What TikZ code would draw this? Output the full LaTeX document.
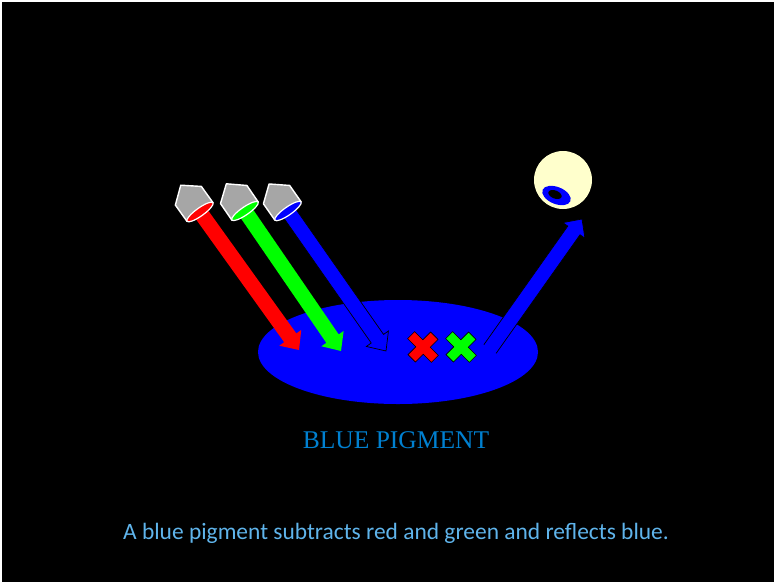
\documentclass[tikz,border=0pt]{standalone}
\usepackage{fontspec}
\newfontfamily\titlefont{Liberation Serif}
\newfontfamily\notefont{Carlito}
\usetikzlibrary{calc}

\definecolor{pureblue}{RGB}{0,0,255}
\definecolor{purered}{RGB}{255,0,0}
\definecolor{puregreen}{RGB}{0,255,0}
\definecolor{lampgray}{RGB}{166,166,166}
\definecolor{eyecream}{RGB}{255,255,204}
\definecolor{labelblue}{RGB}{0,128,208}
\definecolor{noteblue}{RGB}{95,180,235}

% angle (\bang) and length (\blen) from one named point to another
\newcommand\beamangle[2]{%
  \pgfmathanglebetweenpoints{\pgfpointanchor{#1}{center}}{\pgfpointanchor{#2}{center}}%
  \let\bang\pgfmathresult
  \pgfpointdiff{\pgfpointanchor{#1}{center}}{\pgfpointanchor{#2}{center}}%
  \pgfgetlastxy{\bdx}{\bdy}%
  \pgfmathsetmacro\blen{veclen(\bdx,\bdy)}%
}

% block arrow from #1 to #2, drawn with style #3
\newcommand\beam[3]{%
  \beamangle{#1}{#2}%
  \begin{scope}[shift={(#1)}, rotate=\bang]
    \path[#3] (0,7.5) -- (\blen-15,7.5) -- (\blen-15,13.5) -- (\blen,0)
      -- (\blen-15,-13.5) -- (\blen-15,-7.5) -- (0,-7.5) -- cycle;
  \end{scope}}

% lamp housing sitting at #1, aimed at #2, lens colour #3
\newcommand\lamp[3]{%
  \beamangle{#1}{#2}%
  \begin{scope}[shift={(#1)}, rotate=\bang]
    \path[lampbody] (0,16) -- (-20,16) -- (-33,0) -- (-20,-16) -- (0,-16) -- cycle;
    \path[lens, fill=#3] (0,0) ellipse [x radius=4pt, y radius=16pt];
  \end{scope}}

% cross mark centred on #1, filled with #2
\newcommand\crossmark[2]{%
  \begin{scope}[shift={(#1)}, rotate=45, yscale=1.05]
    \path[crossstyle, fill=#2] (5,5) -- (16,5) -- (16,-5) -- (5,-5) -- (5,-16)
      -- (-5,-16) -- (-5,-5) -- (-16,-5) -- (-16,5) -- (-5,5) -- (-5,16)
      -- (5,16) -- cycle;
  \end{scope}}

\begin{document}
\begin{tikzpicture}[x=1pt, y=-1pt,
    lampbody/.style={fill=lampgray, draw=white, line width=1.4pt, line join=round},
    lens/.style={draw=white, line width=1.2pt},
    crossstyle/.style={draw=black, line width=0.6pt},
    plainbeam/.style={fill=#1},
    outlinebeam/.style={fill=pureblue, draw=black, line width=0.7pt, line join=miter}]
  \useasboundingbox (0,0) rectangle (774,582);
  \fill[white] (0,0) rectangle (774,582);
  \fill[black] (2,2) rectangle (774,582);

  % pigment patch
  \fill[pureblue] (398,352) ellipse [x radius=140pt, y radius=52pt];

  % named points
  \coordinate (redsrc) at (200,212);
  \coordinate (redtip) at (299,350);
  \coordinate (grnsrc) at (245,211);
  \coordinate (grntip) at (341,351);
  \coordinate (blusrc) at (288,211);
  \coordinate (blutip) at (386,351);
  \coordinate (outtail) at (490,349);
  \coordinate (outtip) at (582,219);
  \coordinate (xred) at (423,347);
  \coordinate (xgrn) at (461,347);
  \coordinate (eye) at (563,180);

  % incoming light
  \beam{redsrc}{redtip}{plainbeam=purered}
  \beam{grnsrc}{grntip}{plainbeam=puregreen}
  \beam{blusrc}{blutip}{outlinebeam}

  % absorbed colours
  \crossmark{xred}{purered}
  \crossmark{xgrn}{puregreen}

  % reflected blue light
  \beamangle{outtail}{outtip}
  \begin{scope}[shift={(outtail)}, rotate=\bang]
    \fill[pureblue] (0,7.5) -- (\blen-14,7.5) -- (\blen-14,13.5) -- (\blen,0)
      -- (\blen-14,-13.5) -- (\blen-14,-7.5) -- (0,-7.5) -- cycle;
    \draw[black, line width=0.7pt] (0,7.5) -- (\blen-14,7.5) -- (\blen-14,13.5) -- (\blen,0)
      -- (\blen-14,-13.5) -- (\blen-14,-7.5) -- (0,-7.5);
  \end{scope}

  % lamps
  \lamp{redsrc}{redtip}{purered}
  \lamp{grnsrc}{grntip}{puregreen}
  \lamp{blusrc}{blutip}{pureblue}

  % eye
  \fill[eyecream] (eye) circle [radius=29pt];
  \fill[pureblue, rotate around={-22:(556.5,195.5)}] (556.5,195.5) ellipse [x radius=15pt, y radius=8.5pt];
  \fill[black, rotate around={-22:(555,194.5)}] (555,194.5) ellipse [x radius=7pt, y radius=4pt];

  % captions
  \node[text=labelblue, font=\titlefont\fontsize{25.5}{30}\selectfont, anchor=base] (label) at (396,448.5) {BLUE PIGMENT};
  \node[text=noteblue, font=\notefont\fontsize{23.45}{28}\selectfont, anchor=base] (note) at (396,539) {A blue pigment subtracts red and green and reflects blue.};
\end{tikzpicture}
\end{document}
